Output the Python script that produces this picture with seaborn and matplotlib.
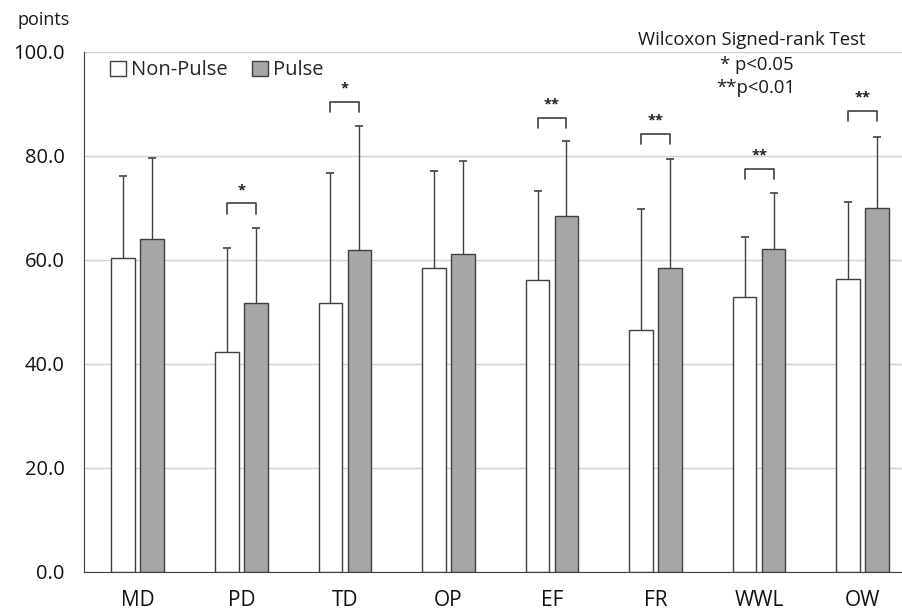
import numpy as np
import pandas as pd
import seaborn as sns
import matplotlib.pyplot as plt
from matplotlib.patches import Patch

labels = ['MD', 'PD', 'TD', 'OP', 'EF', 'FR', 'WWL', 'OW']
non_pulse = [60.2, 42.3, 51.6, 58.4, 56.1, 46.5, 52.8, 56.2]
pulse = [63.9, 51.7, 61.9, 61.1, 68.4, 58.4, 62.0, 69.9]
non_pulse_sd = [15.9, 20.0, 25.0, 18.6, 17.0, 23.2, 11.5, 14.8]
pulse_sd = [15.6, 14.4, 23.8, 17.8, 14.3, 20.9, 10.7, 13.7]
sig = ['', '*', '*', '', '**', '**', '**', '**']
bracket_h = [np.nan, 70.8, 90.3, np.nan, 87.2, 84.2, 77.4, 88.6]

sns.set_style('white')
plt.rcParams['font.family'] = ['Open Sans', 'DejaVu Sans']

df = pd.DataFrame({
    'item': labels * 2,
    'score': non_pulse + pulse,
    'group': ['Non-Pulse'] * len(labels) + ['Pulse'] * len(labels),
})

colors = {'Non-Pulse': '#FFFFFF', 'Pulse': '#A6A6A6'}

fig = plt.figure(figsize=(9.03, 6.14), dpi=100)
ax = fig.add_axes([84 / 903, 1 - 571.5 / 614, 1 - 84 / 903, (571.5 - 51.5) / 614])

sns.barplot(data=df, x='item', y='score', hue='group', palette=colors,
            width=0.56, gap=0.18, edgecolor='#404040', linewidth=1,
            errorbar=None, legend=False, ax=ax, zorder=2)

# error bars (upper only)
centers = []
for cont, means, sds in zip(ax.containers, [non_pulse, pulse], [non_pulse_sd, pulse_sd]):
    xs = [b.get_x() + b.get_width() / 2 for b in cont]
    centers.append(xs)
    tops = np.array(means) + np.array(sds)
    ax.vlines(xs, means, tops, color='#404040', lw=1, zorder=3)
    ax.plot(xs, tops, ls='none', marker='_', ms=6, mew=1.2, color='#404040', zorder=3)

# significance brackets
for i, s in enumerate(sig):
    if not s:
        continue
    x1, x2 = centers[0][i], centers[1][i]
    h = bracket_h[i]
    ax.plot([x1, x1, x2, x2], [h - 2, h, h, h - 2], color='#404040', lw=1.2,
            solid_joinstyle='round', zorder=3)
    ax.text((x1 + x2) / 2, h + 1.2, s, ha='center', va='bottom', fontsize=10.5,
            fontweight='bold', color='#202020')

ax.set_ylim(0, 100)
ax.set_xlim(-0.52, 7.39)
ax.set_yticks(np.arange(0, 101, 20))
ax.set_yticklabels([f'{v:.1f}' for v in np.arange(0, 101, 20)])
ax.yaxis.grid(True, color='#D0D0D0', lw=1)
ax.set_axisbelow(True)
ax.tick_params(axis='y', length=0, pad=14, labelsize=14.5, labelcolor='#111111')
ax.tick_params(axis='x', length=0, pad=13, labelsize=15, labelcolor='#111111')
ax.set_xlabel('')
ax.set_ylabel('')
for sp in ['top', 'right']:
    ax.spines[sp].set_visible(False)
ax.spines['left'].set_color('#404040')
ax.spines['bottom'].set_color('#404040')

handles = [Patch(facecolor=colors[k], edgecolor='#404040', lw=1) for k in colors]
ax.legend(handles, list(colors), loc='upper left', bbox_to_anchor=(0.01, 1.018),
          ncol=2, frameon=False, fontsize=14.5, handlelength=0.8, handleheight=0.8,
          handletextpad=0.25, columnspacing=1.2)

fig.text(18 / 903, 1 - 20 / 614, 'points', va='center', ha='left', fontsize=13, color='#1a1a1a')
fig.text(752 / 903, 1 - 40 / 614, 'Wilcoxon Signed-rank Test', va='center', ha='center',
         fontsize=13.3, color='#1a1a1a')
fig.text(757 / 903, 1 - 65 / 614, '* p<0.05', va='center', ha='center', fontsize=13.3, color='#1a1a1a')
fig.text(756 / 903, 1 - 88 / 614, '**p<0.01', va='center', ha='center', fontsize=13.3, color='#1a1a1a')

fig.savefig('out.png', dpi=100)
